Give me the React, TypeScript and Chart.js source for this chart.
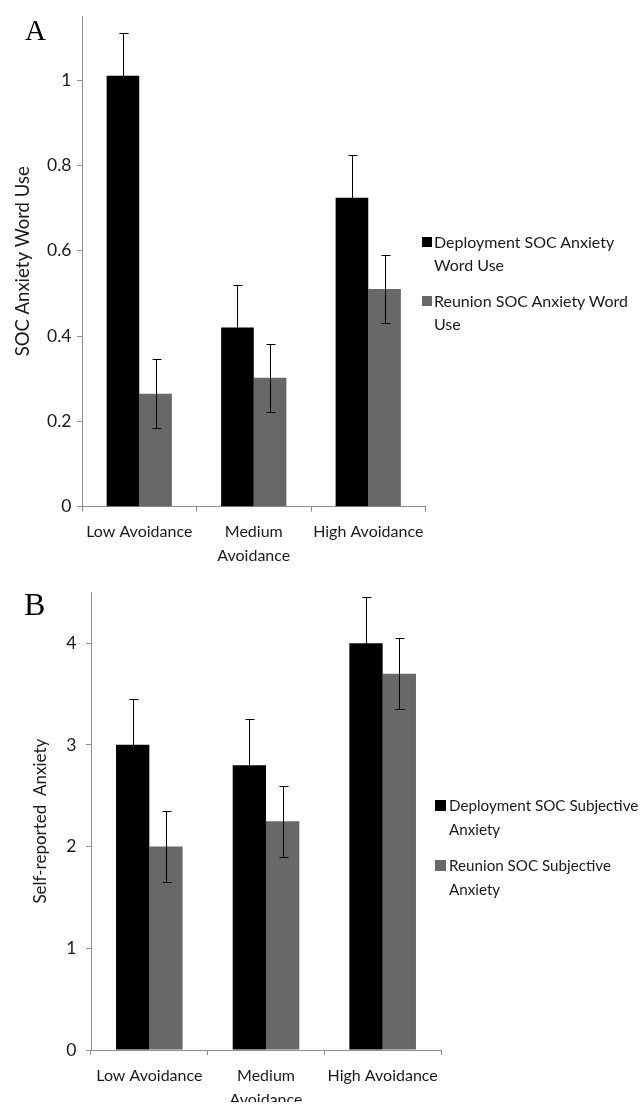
import React, { useEffect, useRef } from 'react';
import { Chart, registerables } from 'chart.js';

Chart.register(...registerables);

// ---------- Data ----------
const categories: (string | string[])[] = ['Low Avoidance', ['Medium', 'Avoidance'], 'High Avoidance'];

const deploymentWordUse = [1.01, 0.42, 0.724];
const deploymentWordUseErr = [0.1, 0.1, 0.1];
const reunionWordUse = [0.265, 0.302, 0.51];
const reunionWordUseErr = [0.08, 0.08, 0.08];
const yTicksA = [0, 0.2, 0.4, 0.6, 0.8, 1];

const deploymentSubjective = [3.0, 2.8, 4.0];
const deploymentSubjectiveErr = [0.45, 0.45, 0.45];
const reunionSubjective = [2.0, 2.25, 3.7];
const reunionSubjectiveErr = [0.35, 0.35, 0.35];
const yTicksB = [0, 1, 2, 3, 4];

const legendA = [['Deployment SOC Anxiety', 'Word Use'], ['Reunion SOC Anxiety Word', 'Use']];
const legendB = [['Deployment SOC Subjective', 'Anxiety'], ['Reunion SOC Subjective', 'Anxiety']];

const BLACK = '#000000';
const GRAY = '#686868';
const AXIS = '#8f8f8f';
const TEXT = '#1a1a1a';
const FONT = 'Lato, "Open Sans", sans-serif';

const errorBarPlugin = {
  id: 'errorBars',
  afterDatasetsDraw(chart: any) {
    const ctx = chart.ctx;
    const yScale = chart.scales.y;
    chart.data.datasets.forEach((ds: any, i: number) => {
      const meta = chart.getDatasetMeta(i);
      meta.data.forEach((bar: any, j: number) => {
        const v = ds.data[j];
        const e = ds.errors[j];
        const x = Math.round(bar.x) + 0.5;
        const yt = Math.round(yScale.getPixelForValue(v + e)) + 0.5;
        const yb = Math.round(yScale.getPixelForValue(v - e)) + 0.5;
        ctx.save();
        ctx.strokeStyle = '#000';
        ctx.lineWidth = 1;
        ctx.beginPath();
        ctx.moveTo(x, yt);
        ctx.lineTo(x, yb);
        ctx.moveTo(x - 4, yt);
        ctx.lineTo(x + 5, yt);
        ctx.moveTo(x - 4, yb);
        ctx.lineTo(x + 5, yb);
        ctx.stroke();
        ctx.restore();
      });
    });
  },
};

type PanelProps = {
  top: number;
  height: number;
  letter: string;
  letterLeft: number;
  letterTop: number;
  letterSize: number;
  yTitle: string;
  yTitleSize: number;
  titlePad: number;
  yMax: number;
  yTicks: number[];
  yWidth: number;
  tickPad: number;
  xPad: number;
  xHeight: number;
  catPct: number;
  padding: { top: number; right: number; bottom: number; left: number };
  series: { label: string; data: number[]; errors: number[]; color: string }[];
  legend: string[][];
  legendLeft: number;
  legendTops: number[];
  legendLineHeight: number;
  legendFontSize: number;
  legendTextPad: number;
  squareSize: number;
  squareTop: number;
};

function Panel(p: PanelProps) {
  const ref = useRef<HTMLCanvasElement | null>(null);
  useEffect(() => {
    if (!ref.current) return;
    const chart = new Chart(ref.current, {
      type: 'bar',
      data: {
        labels: categories as any,
        datasets: p.series.map((s) => ({
          label: s.label,
          data: s.data,
          errors: s.errors,
          backgroundColor: s.color,
          borderWidth: 0,
          barPercentage: 1,
          categoryPercentage: p.catPct,
        })) as any,
      },
      options: {
        animation: false,
        responsive: false,
        maintainAspectRatio: false,
        devicePixelRatio: 1,
        layout: { padding: p.padding },
        plugins: { legend: { display: false }, tooltip: { enabled: false } },
        scales: {
          x: {
            ticks: {
              font: { family: FONT, size: 16, lineHeight: '24.5px' },
              color: TEXT,
              padding: p.xPad,
              maxRotation: 0,
              autoSkip: false,
            },
            grid: { drawOnChartArea: false, drawTicks: true, tickLength: 5, color: AXIS, offset: true },
            border: { color: AXIS },
            afterFit: (s: any) => {
              s.height = p.xHeight;
            },
          },
          y: {
            min: 0,
            max: p.yMax,
            afterBuildTicks: (s: any) => {
              s.ticks = p.yTicks.map((v) => ({ value: v }));
            },
            ticks: {
              font: { family: FONT, size: 17.5 },
              color: TEXT,
              padding: p.tickPad,
              callback: (v: any) => String(v),
            },
            grid: { drawOnChartArea: false, drawTicks: true, tickLength: 5, color: AXIS },
            border: { color: AXIS },
            title: {
              display: true,
              text: p.yTitle,
              font: { family: FONT, size: p.yTitleSize },
              color: TEXT,
              padding: { top: p.titlePad, bottom: 0 },
            },
            afterFit: (s: any) => {
              s.width = p.yWidth;
            },
          },
        },
      },
      plugins: [errorBarPlugin],
    });
    return () => chart.destroy();
  }, []);

  return (
    <div style={{ position: 'absolute', left: 0, top: p.top, width: 641, height: p.height }}>
      <canvas
        ref={ref}
        width={641}
        height={p.height}
        style={{ display: 'block', width: 641, height: p.height }}
      />
      <div
        style={{
          position: 'absolute',
          left: p.letterLeft,
          top: p.letterTop,
          fontFamily: '"Liberation Serif", "Times New Roman", serif',
          fontSize: p.letterSize,
          lineHeight: `${p.letterSize}px`,
          color: '#000',
        }}
      >
        {p.letter}
      </div>
      {p.legend.map((lines, i) => (
        <div
          key={i}
          style={{
            position: 'absolute',
            left: p.legendLeft,
            top: p.legendTops[i],
            paddingLeft: p.legendTextPad,
            fontFamily: FONT,
            fontSize: p.legendFontSize,
            lineHeight: `${p.legendLineHeight}px`,
            color: TEXT,
            whiteSpace: 'nowrap',
          }}
        >
          <span
            style={{
              position: 'absolute',
              left: 0,
              top: p.squareTop,
              width: p.squareSize,
              height: p.squareSize,
              background: p.series[i].color,
            }}
          />
          {lines.map((l, k) => (
            <div key={k}>{l}</div>
          ))}
        </div>
      ))}
    </div>
  );
}

export default function App() {
  return (
    <div style={{ position: 'absolute', left: 0, top: 0, width: 641, height: 1105, background: '#fff', overflow: 'hidden' }}>
      <Panel
        top={0}
        height={570}
        letter="A"
        letterLeft={25}
        letterTop={16}
        letterSize={29}
        yTitle="SOC Anxiety Word Use"
        yTitleSize={18.5}
        titlePad={11.5}
        yMax={1.15}
        yTicks={yTicksA}
        yWidth={82}
        tickPad={5.5}
        xPad={7.5}
        xHeight={60}
        catPct={0.57}
        padding={{ top: 8.5, right: 215.5, bottom: 3.3, left: 0 }}
        series={[
          { label: 'Deployment SOC Anxiety Word Use', data: deploymentWordUse, errors: deploymentWordUseErr, color: BLACK },
          { label: 'Reunion SOC Anxiety Word Use', data: reunionWordUse, errors: reunionWordUseErr, color: GRAY },
        ]}
        legend={legendA}
        legendLeft={421.7}
        legendTops={[231, 290]}
        legendLineHeight={22.5}
        legendFontSize={16}
        legendTextPad={12.3}
        squareSize={10}
        squareTop={5.7}
      />
      <Panel
        top={570}
        height={535}
        letter="B"
        letterLeft={24}
        letterTop={18}
        letterSize={32}
        yTitle="Self-reported  Anxiety"
        yTitleSize={17}
        titlePad={30}
        yMax={4.5}
        yTicks={yTicksB}
        yWidth={91}
        tickPad={9.5}
        xPad={8.5}
        xHeight={52}
        catPct={0.571}
        padding={{ top: 22.3, right: 200, bottom: 3, left: 0 }}
        series={[
          { label: 'Deployment SOC Subjective Anxiety', data: deploymentSubjective, errors: deploymentSubjectiveErr, color: BLACK },
          { label: 'Reunion SOC Subjective Anxiety', data: reunionSubjective, errors: reunionSubjectiveErr, color: GRAY },
        ]}
        legend={legendB}
        legendLeft={435}
        legendTops={[222.5, 282.5]}
        legendLineHeight={24}
        legendFontSize={15.2}
        legendTextPad={14}
        squareSize={11}
        squareTop={7}
      />
    </div>
  );
}
